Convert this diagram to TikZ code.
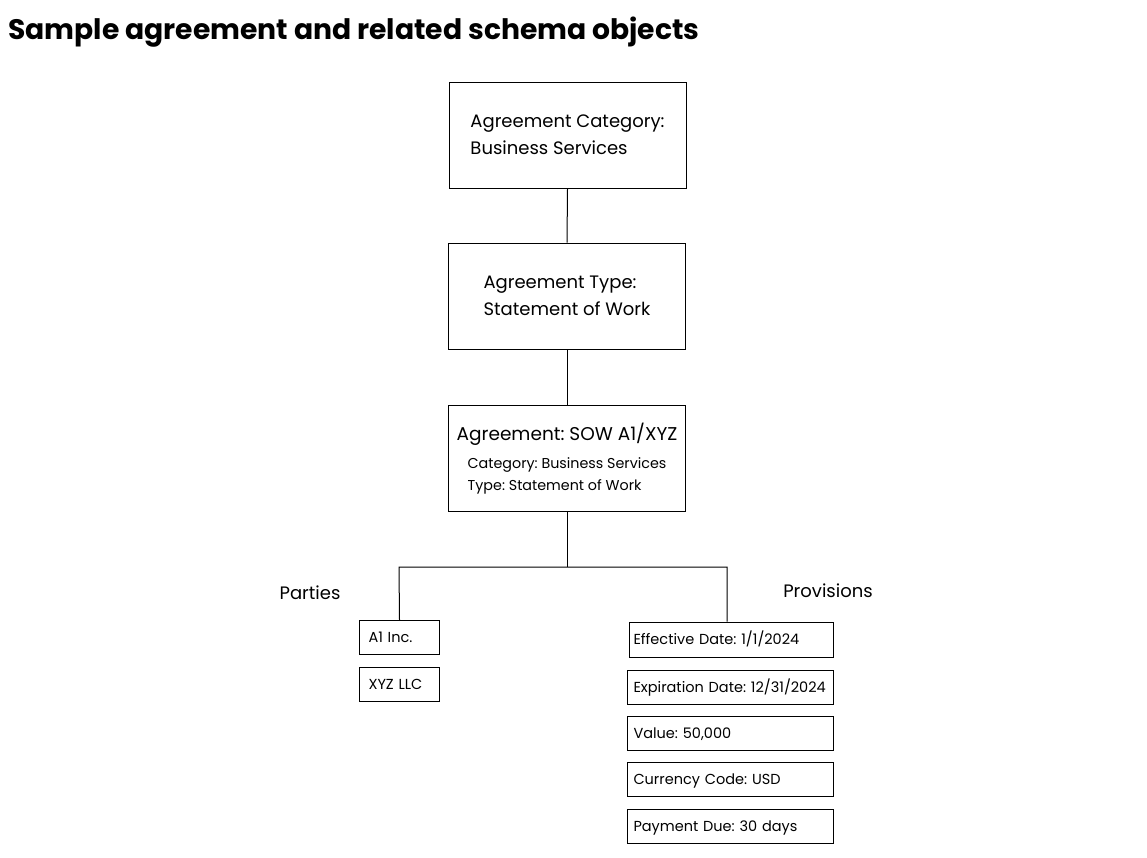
\documentclass[tikz,border=0pt]{standalone}
\usepackage{fontspec}
\setmainfont{Poppins}
\frenchspacing
\begin{document}
\begin{tikzpicture}[x=1pt,y=-1pt,
  box/.style={draw=black, line width=1pt, inner sep=0pt, align=left},
  bigbox/.style={box, minimum width=237pt, minimum height=106pt, font=\fontsize{18}{27}\selectfont},
  smallbox/.style={box, minimum height=34pt, anchor=west, text height=10.5pt, text depth=0pt, font=\fontsize{14.5}{17}\selectfont},
  lbl/.style={font=\fontsize{18}{22}\selectfont, inner sep=0pt},
  conn/.style={draw=black, line width=1pt}]
\useasboundingbox (0,0) rectangle (1147,857);
\node[anchor=base west, inner sep=0pt, font=\fontsize{28.2}{32}\bfseries] (title) at (8,39) {Sample agreement and related schema objects};
\node[bigbox] (cat) at (567.5,135) {Agreement Category:\\Business Services};
\node[bigbox] (type) at (567,296) {Agreement Type:\\Statement of Work};
\node[bigbox, align=center] (agr) at (567,458) {\rule{0pt}{22pt}{\fontsize{18.5}{27}\selectfont Agreement: SOW A1/XYZ}\\[7pt]{\fontsize{14.3}{22}\selectfont\begin{tabular}{@{}l@{}}Category: Business Services\\Type: Statement of Work\end{tabular}}};
\node[lbl] (parties) at (310,593) {Parties};
\node[lbl] (prov) at (828,591) {Provisions};
\node[smallbox, minimum width=80pt, text width=62pt, inner xsep=9pt] (a1) at (359,637.5) {A1 Inc.};
\node[smallbox, minimum width=80pt, text width=62pt, inner xsep=9pt] (xyz) at (359,684.5) {XYZ LLC};
\node[smallbox, minimum height=35pt, text width=196pt, inner xsep=4pt] (eff) at (629,639.5) {Effective Date: 1/1/2024};
\node[smallbox, text width=194pt, inner xsep=6pt] (exp) at (627,687) {Expiration Date: 12/31/2024};
\node[smallbox, text width=194pt, inner xsep=6pt] (val) at (627,733) {Value: 50,000};
\node[smallbox, text width=194pt, inner xsep=6pt] (cur) at (627,779) {Currency Code: USD};
\node[smallbox, text width=194pt, inner xsep=6pt] (pay) at (627,826) {Payment Due: 30 days};
\coordinate (jl) at (399,567);
\coordinate (jr) at (727,567);
\draw[conn] (cat.south) -- (type.north);
\draw[conn] (type.south) -- (agr.north);
\draw[conn] (agr.south) -- (agr.south |- jl);
\draw[conn] (a1.north) -- (jl) -- (jr) -- (jr |- eff.north);
\end{tikzpicture}
\end{document}
